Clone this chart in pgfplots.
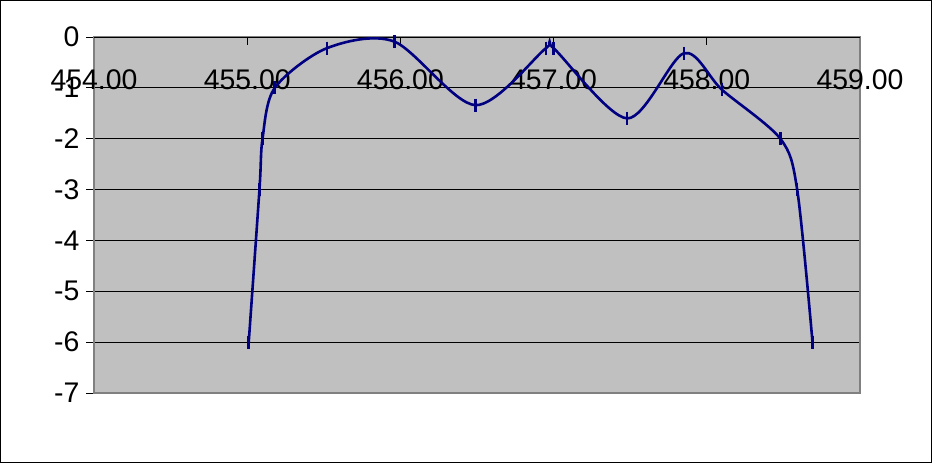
\documentclass[border=0pt]{standalone}
\usepackage{pgfplots}
\pgfplotsset{compat=1.18}
\usepackage{fontspec}
\setmainfont{Liberation Sans}
\definecolor{plotgray}{HTML}{C0C0C0}
\definecolor{edgegray}{HTML}{808080}
\definecolor{navy}{HTML}{000080}
\begin{document}
\begin{tikzpicture}
  % chart area frame
  \draw[black, line width=1bp] (0.5bp,0.5bp) rectangle (931.5bp,462.5bp);
  \begin{axis}[
      at={(94bp,70bp)}, anchor=south west,
      scale only axis,
      width=766bp, height=356bp,
      xmin=454, xmax=459,
      ymin=-7, ymax=0,
      xtick={454,455,...,459},
      ytick={-7,-6,...,0},
      xtick pos=top, xticklabel pos=top,
      ytick pos=left,
      tick align=inside,
      major tick length=8bp,
      y tick style={xshift=-8bp},
      tick style={black, line width=0.8bp},
      ymajorgrids,
      major grid style={black, line width=0.8bp},
      axis line style={edgegray, line width=1.2bp},
      axis background/.style={fill=plotgray},
      tick label style={font=\fontsize{28.5}{34}\selectfont},
      /pgf/number format/assume math mode=true,
      xticklabel style={anchor=north, yshift=-29bp,
        /pgf/number format/.cd, fixed, fixed zerofill, precision=2},
      yticklabel style={xshift=-11bp},
    ]
    \draw[black, line width=0.8bp] (axis cs:454,0) -- (axis cs:459,0);
    \addplot[navy, line width=2.6bp, smooth, tension=0.5,
      mark=|, mark size=6.5bp, mark options={line width=2.6bp}]
      coordinates {
        (455.01,-6.0) (455.08,-3.0) (455.10,-2.0) (455.18,-1.0)
        (455.52,-0.22) (455.96,-0.09) (456.49,-1.34) (456.95,-0.22)
        (457.00,-0.22) (457.48,-1.6) (457.85,-0.32) (458.10,-1.04)
        (458.48,-2.0) (458.59,-3.0) (458.69,-6.0)
      };
  \end{axis}
\end{tikzpicture}
\end{document}
